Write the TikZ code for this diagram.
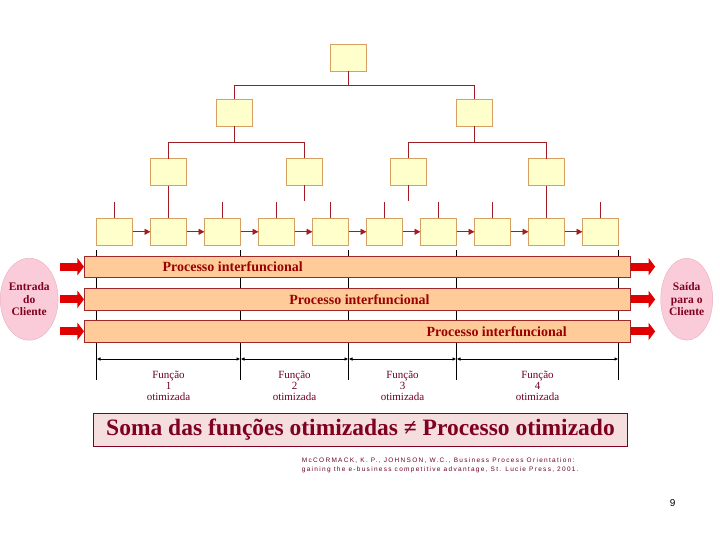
\documentclass[tikz,border=0pt]{standalone}
\usepackage{fontspec}
\setmainfont{Liberation Serif}
\newfontfamily\citefont[LetterSpace=20]{Liberation Sans}
\newfontfamily\numfont{Liberation Sans}
\usepackage{xcolor}
\usetikzlibrary{arrows.meta,positioning,calc,shapes.geometric}
\definecolor{treered}{RGB}{160,30,35}
\definecolor{boxfill}{RGB}{255,255,204}
\definecolor{boxline}{RGB}{214,160,100}
\definecolor{barfill}{RGB}{255,204,153}
\definecolor{barline}{RGB}{160,40,40}
\definecolor{bartext}{RGB}{153,0,0}
\definecolor{ovalfill}{RGB}{250,204,218}
\definecolor{ovalline}{RGB}{235,170,190}
\definecolor{sumfill}{RGB}{245,222,222}
\definecolor{sumtext}{RGB}{128,0,32}
\definecolor{labtext}{RGB}{110,0,40}
\definecolor{bigred}{RGB}{225,0,0}

\begin{document}
\begin{tikzpicture}[x=1pt,y=-1pt,
  fbox/.style={draw=boxline,fill=boxfill,line width=0.8pt,minimum width=36pt,minimum height=27pt,inner sep=0pt,outer sep=0pt},
  tree/.style={treered,line width=0.9pt},
  flow/.style={treered,line width=0.9pt,-{Triangle[length=6pt,width=6pt]}},
  bar/.style={draw=barline,fill=barfill,line width=0.8pt,minimum width=546.7pt,minimum height=21.4pt,inner sep=0pt,outer sep=0pt},
  bartxt/.style={font=\fontsize{14}{16}\selectfont\bfseries,text=bartext,inner sep=0pt},
  bigarr/.style={bigred,line width=8pt,-{Triangle[length=6.5pt,width=17pt]}},
  oval/.style={ellipse,draw=ovalline,fill=ovalfill,minimum width=52pt,minimum height=82pt,inner sep=0pt,align=center,font=\fontsize{11.5}{12.8}\selectfont\bfseries,text=sumtext},
  divider/.style={black,line width=0.8pt},
  dim/.style={black,line width=0.8pt,{Latex[length=4pt,width=3.5pt]}-{Latex[length=4pt,width=3.5pt]}},
  flab/.style={align=center,font=\fontsize{11}{11}\selectfont,text=labtext,inner sep=0pt},
  sum/.style={draw=sumtext,fill=sumfill,line width=0.8pt,minimum width=534.4pt,minimum height=32.7pt,font=\fontsize{23.5}{26}\selectfont\bfseries,text=sumtext},
  cite/.style={align=left,inner sep=0pt,font=\citefont\fontsize{6.5}{9}\selectfont,text=labtext}]

\useasboundingbox (0,0) rectangle (720,540);

% function row
\node[fbox] (b1) at (114.5,231.8) {};
\node[fbox,right=18pt of b1] (b2) {};
\node[fbox,right=18pt of b2] (b3) {};
\node[fbox,right=18pt of b3] (b4) {};
\node[fbox,right=18pt of b4] (b5) {};
\node[fbox,right=18pt of b5] (b6) {};
\node[fbox,right=18pt of b6] (b7) {};
\node[fbox,right=18pt of b7] (b8) {};
\node[fbox,right=18pt of b8] (b9) {};
\node[fbox,right=18pt of b9] (b10) {};

% hierarchy
\node[fbox,above=32.6pt of b2] (c1) {};
\node[fbox] (c2) at (304.3,172) {};
\node[fbox] (c3) at (408.5,172) {};
\node[fbox,above=32.6pt of b9] (c4) {};
\node[fbox] (m1) at (234.5,112.9) {};
\node[fbox] (m2) at (474.5,112.9) {};
\node[fbox] (root) at (348.5,57.8) {};

\draw[tree] (root.south) -- ++(0,14) -| (m1.north);
\draw[tree] (root.south) -- ++(0,14) -| (m2.north);
\draw[tree] (m1.south) -- ++(0,16) -| (c1.north);
\draw[tree] (m1.south) -- ++(0,16) -| (c2.north);
\draw[tree] (m2.south) -- ++(0,16) -| (c3.north);
\draw[tree] (m2.south) -- ++(0,16) -| (c4.north);
\draw[tree] (c1) -- (b2);
\draw[tree] (c4) -- (b9);
\draw[tree] (c2.south) -- ++(0,16);
\draw[tree] (c3.south) -- ++(0,16);
\foreach \b in {b1,b3,b4,b5,b6,b7,b8,b10}
  \draw[tree] (\b.north) -- ++(0,-16);
\foreach \a/\b in {b1/b2,b2/b3,b3/b4,b4/b5,b5/b6,b6/b7,b7/b8,b8/b9,b9/b10}
  \draw[flow] (\a) -- (\b);

% function limits
\draw[divider] ([yshift=-5pt]b1.south west) -- ++(0,130);
\draw[divider] ([yshift=-5pt]b3.south east) -- ++(0,130);
\draw[divider] ([yshift=-5pt]b5.south east) -- ++(0,130);
\draw[divider] ([yshift=-5pt]b7.south east) -- ++(0,130);
\draw[divider] ([yshift=-5pt]b10.south east) -- ++(0,130);

% processes
\node[bar] (p1) at (357.3,266.7) {};
\node[bar,below=11.3pt of p1] (p2) {};
\node[bar,below=10.6pt of p2] (p3) {};
\node[bartxt] (t1) at ($(p1.west)!0.272!(p1.east)$) {Processo interfuncional};
\node[bartxt] (t2) at ($(p2.west)!0.504!(p2.east)$) {Processo interfuncional};
\node[bartxt] (t3) at ($(p3.west)!0.755!(p3.east)$) {Processo interfuncional};

\node[oval] (cin) at (29.2,299.2) {Entrada\\do\\Cliente};
\node[oval] (cout) at (686.7,299.2) {Saída\\para o\\Cliente};

\draw[bigarr] ([xshift=-24pt]p1.west) -- (p1.west);
\draw[bigarr] ([xshift=-24pt]p2.west) -- (p2.west);
\draw[bigarr] ([xshift=-24pt]p3.west) -- (p3.west);
\draw[bigarr] (p1.east) -- ([xshift=24.5pt]p1.east);
\draw[bigarr] (p2.east) -- ([xshift=24.5pt]p2.east);
\draw[bigarr] (p3.east) -- ([xshift=24.5pt]p3.east);

% optimized functions
\coordinate (dimy) at (0,359);
\coordinate (f1) at (b1.south west |- dimy);
\coordinate (f2) at (b3.south east |- dimy);
\coordinate (f3) at (b5.south east |- dimy);
\coordinate (f4) at (b7.south east |- dimy);
\coordinate (f5) at (b10.south east |- dimy);
\draw[dim] (f1) -- node[flab,below=12pt] {Função\\1\\otimizada} (f2);
\draw[dim] (f2) -- node[flab,below=12pt] {Função\\2\\otimizada} (f3);
\draw[dim] (f3) -- node[flab,below=12pt] {Função\\3\\otimizada} (f4);
\draw[dim] (f4) -- node[flab,below=12pt] {Função\\4\\otimizada} (f5);

\node[sum] (soma) at (360.5,429.7) {Soma das funções otimizadas ≠ Processo otimizado};
\node[cite,anchor=north west] (ref) at (301.7,458) {McCORMACK, K. P., JOHNSON, W.C., Business Process Orientation:\\gaining the e-business competitive advantage, St. Lucie Press, 2001.};
\node[font=\numfont\fontsize{10}{12}\selectfont] (pg) at (672.7,503) {9};
\end{tikzpicture}
\end{document}
